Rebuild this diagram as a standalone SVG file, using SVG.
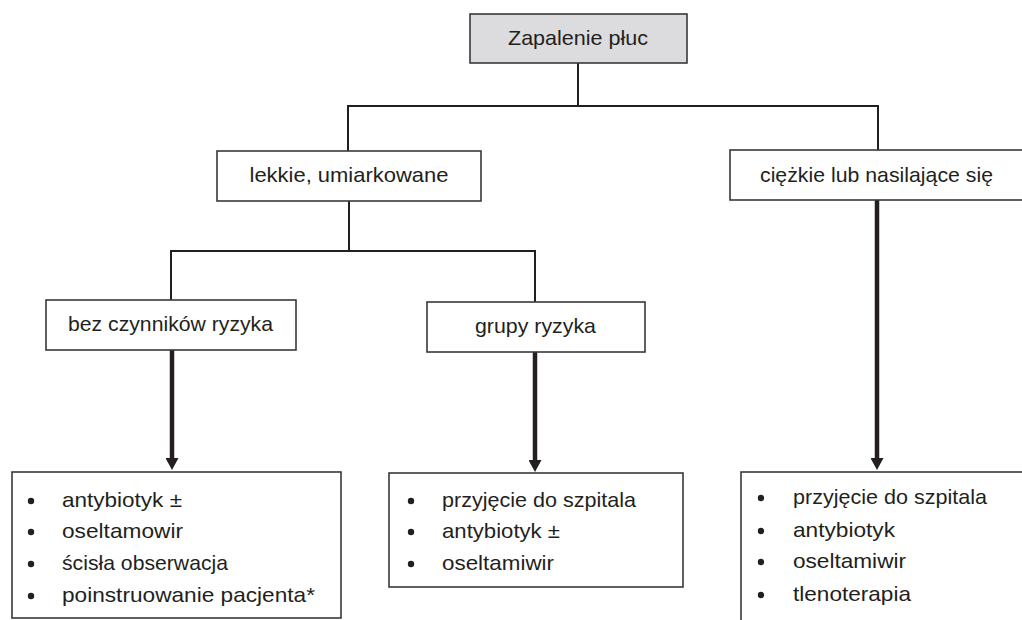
<svg xmlns="http://www.w3.org/2000/svg" width="1022" height="620" viewBox="0 0 1022 620">
<style>
  .box { fill: #ffffff; stroke: #3a3839; stroke-width: 1.6; }
  .grey { fill: #dcdcde; }
  .t { font-family: "Liberation Sans", Arial, sans-serif; font-size: 21px; fill: #231f20; }
  .c { text-anchor: middle; }
  .thin { stroke: #231f20; stroke-width: 2; fill: none; }
  .thick { stroke: #231f20; stroke-width: 4.5; fill: none; }
  .dot { fill: #231f20; }
</style>
<defs>
  <marker id="ah" viewBox="0 0 12 13" refX="2" refY="6.5" markerWidth="12" markerHeight="13" markerUnits="userSpaceOnUse" orient="auto">
    <path d="M0,0 L12,6.5 L0,13 Z" fill="#231f20"/>
  </marker>
</defs>
<rect width="1022" height="620" fill="#ffffff"/>

<g id="connectors">
  <path class="thin" d="M578,63 V106"/>
  <path class="thin" d="M348,151 V106 H878 V150"/>
  <path class="thin" d="M349,201 V251"/>
  <path class="thin" d="M171,300 V251 H535 V302"/>
  <path class="thick" d="M172,350 V460" marker-end="url(#ah)"/>
  <path class="thick" d="M535,352 V462" marker-end="url(#ah)"/>
  <path class="thick" d="M877,200 V460" marker-end="url(#ah)"/>
</g>

<g id="n-zapalenie">
  <rect class="box grey" x="470" y="14" width="217" height="49"/>
  <text class="t c" x="578" y="45" textLength="140" lengthAdjust="spacingAndGlyphs">Zapalenie płuc</text>
</g>

<g id="n-lekkie">
  <rect class="box" x="217" y="151" width="264" height="50"/>
  <text class="t c" x="349" y="182" textLength="199" lengthAdjust="spacingAndGlyphs">lekkie, umiarkowane</text>
</g>

<g id="n-ciezkie">
  <rect class="box" x="730" y="150" width="320" height="50"/>
  <text class="t" x="760" y="182" textLength="233" lengthAdjust="spacingAndGlyphs">ciężkie lub nasilające się</text>
</g>

<g id="n-bez">
  <rect class="box" x="46" y="300" width="250" height="50"/>
  <text class="t" x="68" y="331" textLength="205" lengthAdjust="spacingAndGlyphs">bez czynników ryzyka</text>
</g>

<g id="n-grupy">
  <rect class="box" x="427" y="302" width="218" height="50"/>
  <text class="t" x="475" y="333" textLength="121" lengthAdjust="spacingAndGlyphs">grupy ryzyka</text>
</g>

<g id="n-list-bez">
  <rect class="box" x="12" y="472" width="329" height="146"/>
  <circle class="dot" cx="31" cy="501" r="3.2"/>
  <circle class="dot" cx="31" cy="532" r="3.2"/>
  <circle class="dot" cx="31" cy="564" r="3.2"/>
  <circle class="dot" cx="31" cy="596" r="3.2"/>
  <text class="t" x="62" y="507" textLength="120" lengthAdjust="spacingAndGlyphs">antybiotyk ±</text>
  <text class="t" x="62" y="538" textLength="121" lengthAdjust="spacingAndGlyphs">oseltamowir</text>
  <text class="t" x="62" y="570" textLength="166" lengthAdjust="spacingAndGlyphs">ścisła obserwacja</text>
  <text class="t" x="62" y="602" textLength="253" lengthAdjust="spacingAndGlyphs">poinstruowanie pacjenta*</text>
</g>

<g id="n-list-grupy">
  <rect class="box" x="389" y="473" width="294" height="114"/>
  <circle class="dot" cx="411" cy="501" r="3.2"/>
  <circle class="dot" cx="411" cy="532" r="3.2"/>
  <circle class="dot" cx="411" cy="564" r="3.2"/>
  <text class="t" x="442" y="507" textLength="194" lengthAdjust="spacingAndGlyphs">przyjęcie do szpitala</text>
  <text class="t" x="442" y="538" textLength="118" lengthAdjust="spacingAndGlyphs">antybiotyk ±</text>
  <text class="t" x="442" y="570" textLength="112" lengthAdjust="spacingAndGlyphs">oseltamiwir</text>
</g>

<g id="n-list-ciezkie">
  <rect class="box" x="741" y="472" width="320" height="200"/>
  <circle class="dot" cx="761" cy="498" r="3.2"/>
  <circle class="dot" cx="761" cy="531" r="3.2"/>
  <circle class="dot" cx="761" cy="562" r="3.2"/>
  <circle class="dot" cx="761" cy="595" r="3.2"/>
  <text class="t" x="793" y="504" textLength="194" lengthAdjust="spacingAndGlyphs">przyjęcie do szpitala</text>
  <text class="t" x="793" y="537" textLength="102" lengthAdjust="spacingAndGlyphs">antybiotyk</text>
  <text class="t" x="793" y="568" textLength="113" lengthAdjust="spacingAndGlyphs">oseltamiwir</text>
  <text class="t" x="793" y="601" textLength="118" lengthAdjust="spacingAndGlyphs">tlenoterapia</text>
</g>
</svg>
